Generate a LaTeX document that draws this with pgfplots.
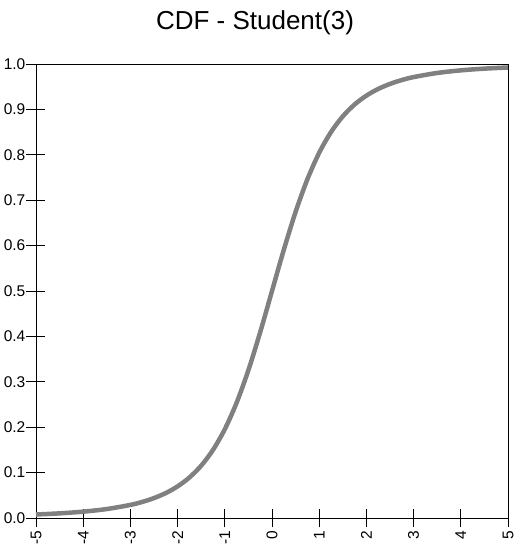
\documentclass[border=0pt]{standalone}
\usepackage{fontspec}
\setmainfont{Liberation Sans}
\usepackage{pgfplots}
\pgfplotsset{compat=1.18}
\definecolor{curvegray}{RGB}{128,128,128}
\begin{document}
\begin{tikzpicture}
\begin{axis}[
  name=ax,
  scale only axis,
  width=472pt, height=454pt,
  xmin=-5, xmax=5, ymin=0, ymax=1,
  xtick={-5,-4,...,5},
  ytick={0,0.1,...,1.0},
  xtick pos=bottom, ytick pos=left,
  tick align=center,
  major tick length=19pt,
  tick style={black, line width=0.8pt},
  axis line style={black, line width=0.8pt},
  /pgf/number format/assume math mode=true,
  yticklabel style={/pgf/number format/fixed, /pgf/number format/fixed zerofill, /pgf/number format/precision=1, font=\fontsize{15.5}{15.5}\selectfont, inner sep=1pt},
  xticklabel style={rotate=90, anchor=east, font=\fontsize{15.5}{15.5}\selectfont, inner sep=3.5pt},
  clip=false,
]
\addplot[curvegray, line width=4.5pt, smooth] coordinates {
(-5,0.007696) (-4.5,0.010245) (-4,0.014004) (-3.5,0.019743) (-3,0.028834)
(-2.75,0.035372) (-2.5,0.043864) (-2.25,0.054969) (-2,0.069663) (-1.75,0.089213)
(-1.5,0.115292) (-1.25,0.149966) (-1,0.195501) (-0.75,0.253859) (-0.5,0.325725)
(-0.25,0.409360) (0,0.5) (0.25,0.590640) (0.5,0.674275) (0.75,0.746141)
(1,0.804499) (1.25,0.850034) (1.5,0.884708) (1.75,0.910787) (2,0.930337)
(2.25,0.945031) (2.5,0.956136) (2.75,0.964628) (3,0.971166) (3.5,0.980257)
(4,0.985996) (4.5,0.989755) (5,0.992304)
};
\end{axis}
\node[anchor=base, font=\fontsize{26}{26}\selectfont] at ([xshift=219pt, yshift=34pt]ax.north west) {CDF - Student(3)};
\pgfresetboundingbox
\path ([xshift=-36pt, yshift=-33pt]ax.south west) rectangle ([xshift=10pt, yshift=64pt]ax.north east);
\end{tikzpicture}
\end{document}
